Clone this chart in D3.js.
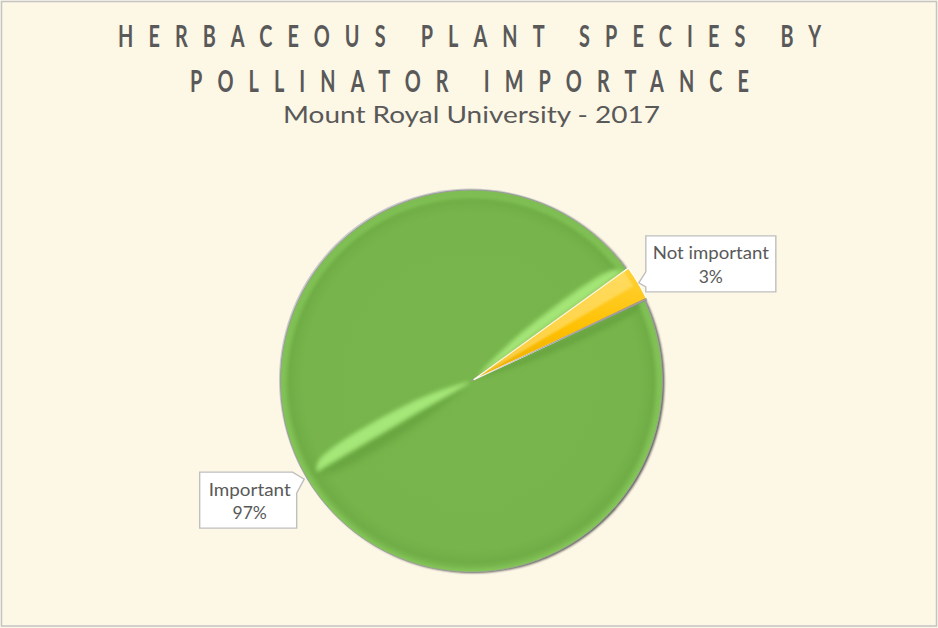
<!DOCTYPE html>
<html>
<head>
<meta charset="utf-8">
<script src="https://cdn.jsdelivr.net/npm/d3@7"></script>
<style>
  html, body { margin: 0; padding: 0; background: #fdf7e6; }
  svg { display: block; }
</style>
</head>
<body>
<svg id="chart" width="938" height="628"></svg>
<script>
// ---- data ----
const categories = ["Important", "Not important"];
const values = [97, 3];
const titleLines = ["HERBACEOUS PLANT SPECIES BY", "POLLINATOR IMPORTANCE"];
const subtitle = "Mount Royal University - 2017";

// ---- layout & style ----
const W = 938, H = 628;
const cx = 471.5, cy = 381, R = 191;
const firstSliceDeg = 65;
const textColor = "#595959";
const deg = Math.PI / 180;

const svg = d3.select("#chart");
const defs = svg.append("defs");

// background + outer border
svg.append("rect").attr("x", 0).attr("y", 0).attr("width", W).attr("height", H).attr("fill", "#fdf7e6");
svg.append("rect").attr("x", 1.5).attr("y", 1.5).attr("width", W - 3).attr("height", H - 3.5)
  .attr("fill", "none").attr("stroke", "#c4c4c4").attr("stroke-width", 1.5);

// ---- titles ----
function spacedTitle(str, left, right, baseline, size, sx) {
  const target = (right - left) / sx;
  svg.append("text")
    .attr("transform", `translate(${(left + right) / 2},${baseline}) scale(${sx},1)`)
    .attr("x", -target / 2).attr("y", 0)
    .attr("textLength", target).attr("lengthAdjust", "spacing")
    .attr("font-family", "Lato, 'Open Sans', sans-serif")
    .attr("font-weight", 700).attr("font-size", size)
    .attr("fill", textColor)
    .text(str);
}
spacedTitle(titleLines[0], 118, 821, 47, 31, 0.64);
spacedTitle(titleLines[1], 190, 749, 92, 31, 0.64);

svg.append("text")
  .attr("x", 283).attr("y", 123)
  .attr("textLength", 377).attr("lengthAdjust", "spacingAndGlyphs")
  .attr("font-family", "Lato, 'Open Sans', sans-serif")
  .attr("font-size", 23.5).attr("fill", textColor)
  .text(subtitle);

// ---- pie ----
const pie = d3.pie().sort(null).value(d => d.value)
  .startAngle(firstSliceDeg * deg).endAngle(firstSliceDeg * deg + 2 * Math.PI);
const data = categories.map((c, i) => ({ name: c, value: values[i] }));
const arcs = pie(data);
const total = d3.sum(values);
const arc = d3.arc().innerRadius(0).outerRadius(R);
const polar = (a, r) => [cx + r * Math.sin(a), cy - r * Math.cos(a)];

// filters
const blur = (id, s) => defs.append("filter").attr("id", id)
  .attr("x", "-30%").attr("y", "-30%").attr("width", "160%").attr("height", "160%")
  .append("feGaussianBlur").attr("stdDeviation", s);
blur("soft1", 1.2);
blur("soft2", 2.2);
blur("soft3", 3);

// rim bevel gradient (slice paths are drawn around a local origin at the pie centre)
const rg = defs.append("radialGradient").attr("id", "rimGreen")
  .attr("gradientUnits", "userSpaceOnUse").attr("cx", 0).attr("cy", 0).attr("r", R);
rg.append("stop").attr("offset", "0%").attr("stop-color", "#78b64d");
rg.append("stop").attr("offset", "88%").attr("stop-color", "#77b54c");
rg.append("stop").attr("offset", "95%").attr("stop-color", "#70ad46");
rg.append("stop").attr("offset", "100%").attr("stop-color", "#80bf55");

const yg = defs.append("linearGradient").attr("id", "yellowFill")
  .attr("x1", "0").attr("y1", "0").attr("x2", "0").attr("y2", "1");
yg.append("stop").attr("offset", "0%").attr("stop-color", "#ffd23a");
yg.append("stop").attr("offset", "55%").attr("stop-color", "#ffc000");
yg.append("stop").attr("offset", "100%").attr("stop-color", "#e8aa00");

// a tapered band lying along a radius at angle a: side +1 is clockwise of the ray
function bandPath(a, r0, r1, wMax, side) {
  const dir = [Math.sin(a), -Math.cos(a)];
  const perp = [Math.cos(a) * side, Math.sin(a) * side];
  const at = (r, o) => [cx + r * dir[0] + o * perp[0], cy + r * dir[1] + o * perp[1]];
  const rk = r0 + (r1 - r0) * 0.35;
  return d3.line().curve(d3.curveCatmullRomClosed)(
    [at(r0, 0), at(rk, wMax), at(r1 - 8, wMax * 0.75), at(r1, 0), at(r1 - 8, 0), at(rk, 0)]);
}

const pieG = svg.append("g");

// shadow and rim lines under the disc
pieG.append("circle").attr("cx", cx + 1.8).attr("cy", cy + 1).attr("r", R)
  .attr("fill", "#3c3c3c").attr("opacity", 0.85).attr("filter", "url(#soft1)");
pieG.append("circle").attr("cx", cx - 1).attr("cy", cy - 1).attr("r", R + 0.5)
  .attr("fill", "#c9c9c9");

const explode = { "Important": 0, "Not important": 2.5 };

arcs.forEach(a => {
  const mid = (a.startAngle + a.endAngle) / 2;
  const off = explode[a.data.name];
  const tr = `translate(${cx + off * Math.sin(mid)},${cy - off * Math.cos(mid)})`;
  const g = pieG.append("g").attr("transform", tr);
  const clipId = "clip-" + a.index;
  defs.append("clipPath").attr("id", clipId).append("path").attr("d", arc(a)).attr("transform", tr);

  if (a.data.name === "Important") {
    g.append("path").attr("d", arc(a)).attr("fill", "url(#rimGreen)")
      .attr("stroke", "#9a9a9a").attr("stroke-width", 1);
    const bev = pieG.append("g").attr("clip-path", `url(#${clipId})`);
    // ridge running opposite the cut
    bev.append("path").attr("d", bandPath(mid, 4, R - 13, 10, -1))
      .attr("fill", "#5f9a37").attr("opacity", 0.55).attr("filter", "url(#soft3)");
    bev.append("path").attr("d", bandPath(mid, 2, R - 12, 12, 1))
      .attr("fill", "#a8ea7c").attr("opacity", 0.95).attr("filter", "url(#soft2)");
    // highlight along the upper cut edge, shade along the lower one
    const eUp = a.endAngle - 2 * Math.PI;
    bev.append("path").attr("d", bandPath(eUp, 8, R - 4, 10, -1))
      .attr("fill", "#a9ea7c").attr("opacity", 0.9).attr("filter", "url(#soft2)");
    bev.append("path").attr("d", bandPath(a.startAngle, 8, R - 4, 8, 1))
      .attr("fill", "#5b9434").attr("opacity", 0.45).attr("filter", "url(#soft2)");
    // soft bright rim along the bottom
    bev.append("circle").attr("cx", cx).attr("cy", cy + 3).attr("r", R - 3)
      .attr("fill", "none").attr("stroke", "#8fd462").attr("stroke-width", 4)
      .attr("opacity", 0.5).attr("filter", "url(#soft2)");
  } else {
    g.append("path").attr("d", arc(a)).attr("fill", "url(#yellowFill)")
      .attr("stroke", "#ffffff").attr("stroke-width", 1.3);
    const inner = d3.arc().innerRadius(0).outerRadius(R - 6);
    g.append("path").attr("d", inner({ startAngle: a.startAngle, endAngle: (a.startAngle + a.endAngle) / 2 }))
      .attr("fill", "#ffe27a").attr("opacity", 0.6).attr("filter", "url(#soft1)");
    g.append("path").attr("d", d3.arc().innerRadius(0).outerRadius(R)({ startAngle: a.endAngle - 0.4 * deg, endAngle: a.endAngle + 0.4 * deg }))
      .attr("fill", "#8a8a8a").attr("opacity", 0.8);
  }
});

// ---- data labels (callouts) ----
const fmtPct = v => Math.round(v / total * 100) + "%";
const labelFont = "Lato, 'Open Sans', sans-serif";
const labelLayout = {
  "Not important": { dx: 7, dy: -47, w: 130, h: 56, side: "left", nameW: 116 },
  "Important":     { dx: -104.5, dy: -7, w: 97, h: 56, side: "right", nameW: 82 }
};

arcs.forEach(a => {
  const mid = (a.startAngle + a.endAngle) / 2;
  const [tx, ty] = polar(mid, R + 3);
  const L = labelLayout[a.data.name];
  const bx = tx + L.dx, by = ty + L.dy;
  let pts;
  if (L.side === "left") {
    pts = [[bx, by], [bx + L.w, by], [bx + L.w, by + L.h], [bx, by + L.h],
           [bx, ty + 4], [tx, ty], [bx, ty - 11]];
  } else {
    const rx = bx + L.w;
    pts = [[bx, by], [rx - 4, by], [tx, ty], [rx, ty + 14],
           [rx, by + L.h], [bx, by + L.h]];
  }
  svg.append("path").attr("d", d3.line()(pts) + "Z")
    .attr("fill", "#ffffff").attr("stroke", "#bfbfbf").attr("stroke-width", 1.4);
  const mx = bx + L.w / 2 + (L.side === "right" ? 1.5 : 0);
  svg.append("text").attr("x", mx - L.nameW / 2).attr("y", by + 23.5)
    .attr("textLength", L.nameW).attr("lengthAdjust", "spacingAndGlyphs")
    .attr("font-family", labelFont).attr("font-size", 17.5).attr("fill", textColor)
    .text(a.data.name);
  svg.append("text").attr("x", mx).attr("y", by + 47).attr("text-anchor", "middle")
    .attr("font-family", labelFont).attr("font-size", 17.5).attr("fill", textColor)
    .text(fmtPct(a.data.value));
});
</script>
</body>
</html>
